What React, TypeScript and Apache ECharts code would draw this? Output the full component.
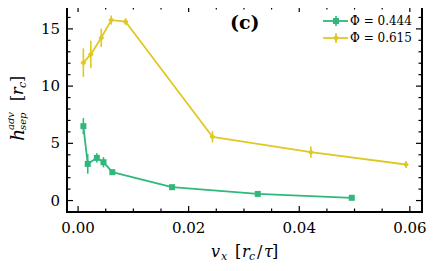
import React, { useEffect, useRef } from "react";
import * as echarts from "echarts";

const vx444 = [0.00096, 0.00175, 0.0034, 0.0046, 0.0062, 0.017, 0.0325, 0.0495];
const h444 = [6.5, 3.2, 3.73, 3.35, 2.48, 1.17, 0.58, 0.24];
const err444 = [0.7, 0.85, 0.4, 0.45, 0.2, 0.15, 0.1, 0.1];

const vx615 = [0.00096, 0.0023, 0.0042, 0.006, 0.0086, 0.0243, 0.0421, 0.0593];
const h615 = [12.05, 12.77, 14.23, 15.77, 15.63, 5.57, 4.23, 3.15];
const err615 = [1.25, 1.2, 0.8, 0.4, 0.3, 0.5, 0.5, 0.3];

const xMajor = [0, 0.02, 0.04, 0.06];
const xMinor = [0.005, 0.01, 0.015, 0.025, 0.03, 0.035, 0.045, 0.05, 0.055];
const yMajor = [0, 5, 10, 15];
const yMinor = [-1, 1, 2, 3, 4, 6, 7, 8, 9, 11, 12, 13, 14, 16, 17];

const GREEN = "#30b87c";
const YELLOW = "#e0c823";
const FONT = "DejaVu Serif";

export default function App() {
  const ref = useRef<HTMLDivElement>(null);
  useEffect(() => {
    const chart = echarts.init(ref.current!, null, { renderer: "svg" });
    const xmin = -0.002, xmax = 0.0622, ymin = -1, ymax = 17;
    const MAJ = 6, MIN = 3.5;

    const errSeries = (xs: number[], ys: number[], es: number[], color: string) => ({
      type: "custom",
      data: xs.map((x, i) => [x, ys[i], es[i]]),
      encode: { x: 0, y: 1 },
      z: 3,
      renderItem: (params: any, api: any) => {
        const x = api.value(0), y = api.value(1), e = api.value(2);
        const p1 = api.coord([x, y - e]);
        const p2 = api.coord([x, y + e]);
        return {
          type: "line",
          shape: { x1: p1[0], y1: p1[1], x2: p2[0], y2: p2[1] },
          style: { stroke: color, lineWidth: 1.6 },
        };
      },
    });
    const lineSeries = (xs: number[], ys: number[], color: string, symbol: string, size: number) => ({
      type: "line",
      data: xs.map((x, i) => [x, ys[i]]),
      symbol,
      symbolSize: size,
      showSymbol: true,
      itemStyle: { color },
      lineStyle: { color, width: 1.8 },
      z: 4,
    });
    // ticks on all four sides, placed through the axes' scales
    const xTickSeries = {
      type: "custom",
      silent: true,
      z: 5,
      data: [...xMajor.map((v) => [v, 0, MAJ]), ...xMinor.map((v) => [v, 0, MIN])],
      encode: { x: 0, y: 1 },
      renderItem: (params: any, api: any) => {
        const cs = params.coordSys;
        const px = api.coord([api.value(0), ymin])[0];
        const len = api.value(2);
        const top = cs.y, bot = cs.y + cs.height;
        return {
          type: "group",
          children: [
            { type: "line", shape: { x1: px, y1: bot, x2: px, y2: bot - len }, style: { stroke: "#000", lineWidth: 1.2 } },
            { type: "line", shape: { x1: px, y1: top, x2: px, y2: top + len }, style: { stroke: "#000", lineWidth: 1.2 } },
          ],
        };
      },
    };
    const yTickSeries = {
      type: "custom",
      silent: true,
      z: 5,
      data: [...yMajor.map((v) => [0, v, MAJ]), ...yMinor.map((v) => [0, v, MIN])],
      encode: { x: 0, y: 1 },
      renderItem: (params: any, api: any) => {
        const cs = params.coordSys;
        const py = api.coord([xmin, api.value(1)])[1];
        const len = api.value(2);
        const l = cs.x, r = cs.x + cs.width;
        return {
          type: "group",
          children: [
            { type: "line", shape: { x1: l, y1: py, x2: l + len, y2: py }, style: { stroke: "#000", lineWidth: 1.2 } },
            { type: "line", shape: { x1: r, y1: py, x2: r - len, y2: py }, style: { stroke: "#000", lineWidth: 1.2 } },
          ],
        };
      },
    };

    const T = (text: string, x: number, y: number, size: number, italic = false, extra: any = {}) => ({
      type: "text",
      x,
      y,
      style: {
        text,
        fontFamily: FONT,
        fontSize: size,
        fontStyle: italic ? "italic" : "normal",
        fill: "#000",
        verticalAlign: "middle",
        ...extra,
      },
    });

    const legendRow = (y: number, color: string, symbol: "square" | "diamond", label: string) => [
      { type: "line", shape: { x1: 323, y1: y, x2: 348, y2: y }, style: { stroke: color, lineWidth: 1.8 } },
      { type: "line", shape: { x1: 336, y1: y - 5, x2: 336, y2: y + 5 }, style: { stroke: color, lineWidth: 1.6 } },
      symbol === "square"
        ? { type: "rect", shape: { x: 333, y: y - 3, width: 6, height: 6 }, style: { fill: color } }
        : { type: "polygon", shape: { points: [[336, y - 3.5], [339, y], [336, y + 3.5], [333, y]] }, style: { fill: color } },
      T(label, 350, y, 12),
    ];

    chart.setOption({
      animation: false,
      textStyle: { fontFamily: FONT },
      grid: { left: 67, right: 14, top: 6, bottom: 59, containLabel: false, show: true, borderColor: "#000", borderWidth: 2, backgroundColor: "transparent" },
      xAxis: {
        type: "value",
        min: xmin,
        max: xmax,
        axisLine: { show: true, onZero: false, lineStyle: { color: "#000", width: 2 } },
        splitLine: { show: false },
        axisTick: { show: false },
        axisLabel: { show: true, customValues: xMajor, formatter: (v: number) => v.toFixed(2), fontFamily: FONT, fontSize: 15, color: "#000", margin: 8 },
      },
      yAxis: {
        type: "value",
        min: ymin,
        max: ymax,
        axisLine: { show: true, onZero: false, lineStyle: { color: "#000", width: 2 } },
        splitLine: { show: false },
        axisTick: { show: false },
        axisLabel: { show: true, customValues: yMajor, formatter: (v: number) => String(v), fontFamily: FONT, fontSize: 15, color: "#000", margin: 7 },
      },
      series: [
        lineSeries(vx444, h444, GREEN, "rect", 6),
        errSeries(vx444, h444, err444, GREEN),
        lineSeries(vx615, h615, YELLOW, "diamond", 6),
        errSeries(vx615, h615, err615, YELLOW),
        xTickSeries,
        yTickSeries,
      ],
      graphic: [
        T("(c)", 230, 22, 19, false, { fontWeight: "bold" }),
        ...legendRow(21, GREEN, "square", "Φ = 0.444"),
        ...legendRow(38, YELLOW, "diamond", "Φ = 0.615"),
        T("v", 211, 251, 16, true),
        T("x", 221, 256, 11, true),
        T("[", 235, 251, 16),
        T("r", 242, 251, 16, true),
        T("c", 249, 256, 11, true),
        T("/", 257, 251, 16),
        T("τ", 264, 251, 16, true),
        T("]", 272, 251, 16),
        {
          type: "group",
          x: 17,
          y: 141,
          rotation: Math.PI / 2,
          children: [
            T("h", 0, 0, 19, true),
            T("adv", 11, -7, 10, true),
            T("sep", 11, 5, 10, true),
            T("[", 40, 0, 16),
            T("r", 46, 0, 16, true),
            T("c", 53, 5, 11, true),
            T("]", 59, 0, 16),
          ],
        },
      ],
    });
    return () => chart.dispose();
  }, []);
  return <div ref={ref} style={{ width: 436, height: 271, margin: -8 }} />;
}
